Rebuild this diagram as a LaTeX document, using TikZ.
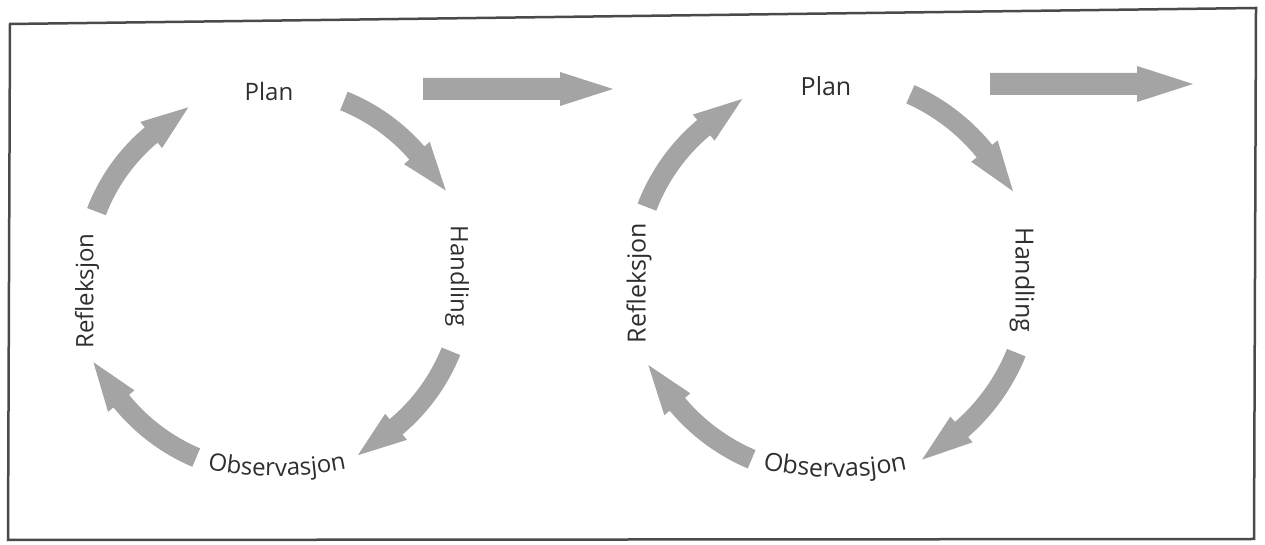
\documentclass[tikz,border=0pt]{standalone}
\usepackage{fontspec}
\setmainfont{Open Sans}
\usetikzlibrary{calc,decorations.text}
\definecolor{txt}{HTML}{2E2E2E}
\definecolor{arrowgray}{HTML}{A4A4A4}
\definecolor{framegray}{HTML}{4A4A4A}
\tikzset{
  arrowfill/.style={fill=arrowgray},
  framestyle/.style={draw=framegray,line width=2.5pt,line join=miter},
  lbl/.style={text=txt,inner sep=0pt,font=\fontsize{#1}{#1}\selectfont},
}
\newcommand\cycarrow[4]{% center, start angle, end angle, radius
  \pgfmathsetmacro\hm{#3+14}
  \fill[arrowfill] ($(#1)+(#2:#4pt+10pt)$)
     arc[start angle=#2, end angle=\hm, radius=#4pt+10pt]
     -- ($(#1)+(\hm:#4pt+17pt)$) -- ($(#1)+(#3:#4pt+3pt)$)
     -- ($(#1)+(\hm:#4pt-17pt)$) -- ($(#1)+(\hm:#4pt-10pt)$)
     arc[start angle=\hm, end angle=#2, radius=#4pt-10pt] -- cycle;}
\begin{document}
\begin{tikzpicture}[x=1pt,y=1pt]
\useasboundingbox (0,0) rectangle (1265,545);
% frame
\draw[framestyle] (10,521) -- (1256,537) -- (1254,6) -- (8,5) -- cycle;
% centres
\coordinate (c1) at (272,266);
\coordinate (c2) at (829,268);
\coordinate (o1) at (277,419);
\coordinate (o2) at (835,408);
% cycle 1 labels
\node[lbl=24] (plan1) at (269,453) {Plan};
\node[lbl=24,rotate=-90] (hand1) at (457,269) {Handling};
\node[lbl=24,rotate=90] (refl1) at (87,254) {Refleksjon};
\path[decorate,decoration={text along path,text align=center,text color=txt,
  text={|\fontsize{24}{24}\selectfont|Observasjon}}]
  ($(o1)+(-103:350pt)$) arc[start angle=-103,end angle=-77,radius=350pt];
% cycle 2 labels
\node[lbl=25] (plan2) at (826,459) {Plan};
\node[lbl=25,rotate=-90] (hand2) at (1022,265) {Handling};
\node[lbl=25,rotate=90] (refl2) at (639,262) {Refleksjon};
\path[decorate,decoration={text along path,text align=center,text color=txt,
  text={|\fontsize{25}{25}\selectfont|Observasjon}}]
  ($(o2)+(-103:340pt)$) arc[start angle=-103,end angle=-77,radius=340pt];
% cycle 1 arrows
\cycarrow{c1}{68}{27}{192}
\cycarrow{c1}{-22}{-64}{193}
\cycarrow{c1}{-113}{-155}{194}
\cycarrow{c1}{159}{116}{188}
% cycle 2 arrows
\cycarrow{c2}{66}{25}{200}
\cycarrow{c2}{-22}{-63}{202}
\cycarrow{c2}{-113}{-154}{198}
\cycarrow{c2}{159}{116}{195}
% straight arrows
\fill[arrowfill] (423,445) -- (560,445) -- (560,439) -- (613,456) -- (560,473) -- (560,467) -- (423,467) -- cycle;
\fill[arrowfill] (990,450) -- (1137,450) -- (1137,443) -- (1193,461) -- (1137,479) -- (1137,472) -- (990,472) -- cycle;
\end{tikzpicture}
\end{document}
